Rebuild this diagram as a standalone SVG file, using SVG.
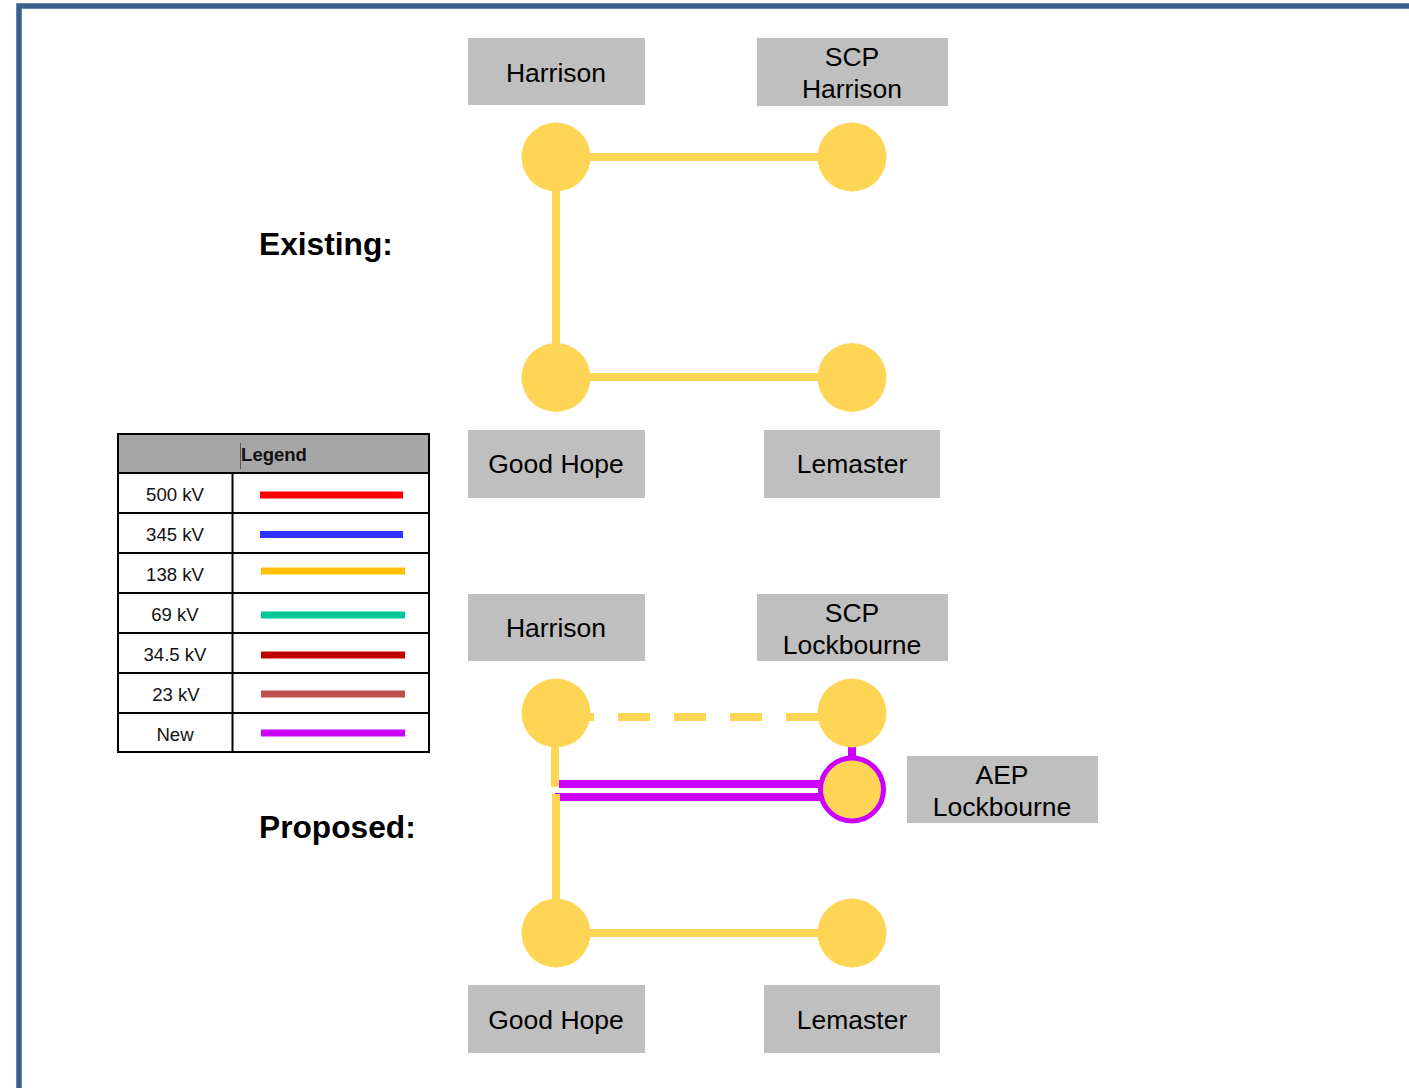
<svg xmlns="http://www.w3.org/2000/svg" width="1409" height="1088" viewBox="0 0 1409 1088">
<style>
.lbl{fill:#BFBFBF}
.t{font-family:"Liberation Sans",Arial,sans-serif;font-size:26.5px;fill:#000;text-anchor:middle}
.h{font-family:"Liberation Sans",Arial,sans-serif;font-size:31.7px;font-weight:bold;fill:#000}
.bus{fill:#FFD555}
.y{stroke:#FFD555;stroke-width:8;fill:none}
.p{stroke:#CC00FF;stroke-width:8;fill:none}
.lt{font-family:"Liberation Sans",Arial,sans-serif;font-size:18.6px;fill:#111;text-anchor:middle}
.grid{stroke:#000;stroke-width:2;fill:none}
.ll{stroke-width:7;fill:none}
</style>
<rect x="0" y="0" width="1409" height="1088" fill="#fff"/>
<rect x="19" y="6" width="1500" height="1200" fill="none" stroke="#3A5F8E" stroke-width="5.5"/>

<text class="h" x="259" y="255">Existing:</text>
<text class="h" x="259" y="838">Proposed:</text>

<g id="connectors">
  <line class="y" x1="556" y1="157" x2="852" y2="157"/>
  <line class="y" x1="556" y1="157" x2="556" y2="377"/>
  <line class="y" x1="556" y1="377" x2="852" y2="377"/>
  <line class="y" x1="562" y1="717" x2="820" y2="717" stroke-dasharray="32 24"/>
  <line class="y" x1="555" y1="713" x2="555" y2="787"/>
  <line class="p" x1="559" y1="784" x2="830" y2="784"/>
  <line class="p" x1="555" y1="797" x2="830" y2="797"/>
  <line class="y" x1="556" y1="794" x2="556" y2="933"/>
  <line class="y" x1="556" y1="933" x2="852" y2="933"/>
  <line class="p" x1="852" y1="740" x2="852" y2="762"/>
</g>

<g id="existing-harrison">
  <rect class="lbl" x="468" y="38" width="177" height="67"/>
  <text class="t" x="556" y="82">Harrison</text>
  <circle class="bus" cx="556" cy="157" r="34.5"/>
</g>
<g id="existing-scp-harrison">
  <rect class="lbl" x="757" y="38" width="191" height="68"/>
  <text class="t" x="852" y="66">SCP</text>
  <text class="t" x="852" y="98">Harrison</text>
  <circle class="bus" cx="852" cy="157" r="34.5"/>
</g>
<g id="existing-good-hope">
  <circle class="bus" cx="556" cy="377.5" r="34.5"/>
  <rect class="lbl" x="468" y="430" width="177" height="68"/>
  <text class="t" x="556" y="473">Good Hope</text>
</g>
<g id="existing-lemaster">
  <circle class="bus" cx="852" cy="377.5" r="34.5"/>
  <rect class="lbl" x="764" y="430" width="176" height="68"/>
  <text class="t" x="852" y="473">Lemaster</text>
</g>

<g id="proposed-harrison">
  <rect class="lbl" x="468" y="594" width="177" height="67"/>
  <text class="t" x="556" y="637">Harrison</text>
  <circle class="bus" cx="556" cy="713" r="34.5"/>
</g>
<g id="proposed-scp-lockbourne">
  <rect class="lbl" x="757" y="594" width="191" height="67"/>
  <text class="t" x="852" y="622">SCP</text>
  <text class="t" x="852" y="654">Lockbourne</text>
  <circle class="bus" cx="852" cy="713" r="34.5"/>
</g>
<g id="proposed-aep-lockbourne">
  <circle class="bus" cx="852" cy="789.5" r="31.5" stroke="#CC00FF" stroke-width="5"/>
  <rect class="lbl" x="907" y="756" width="191" height="67"/>
  <text class="t" x="1002" y="784">AEP</text>
  <text class="t" x="1002" y="816">Lockbourne</text>
</g>
<g id="proposed-good-hope">
  <circle class="bus" cx="556" cy="933" r="34.5"/>
  <rect class="lbl" x="468" y="985" width="177" height="68"/>
  <text class="t" x="556" y="1029">Good Hope</text>
</g>
<g id="proposed-lemaster">
  <circle class="bus" cx="852" cy="933" r="34.5"/>
  <rect class="lbl" x="764" y="985" width="176" height="68"/>
  <text class="t" x="852" y="1029">Lemaster</text>
</g>

<g id="legend">
  <rect x="118" y="434" width="311" height="39" fill="#A6A6A6"/>
  <rect x="118" y="473" width="311" height="279" fill="#fff"/>
  <line x1="240.5" y1="443" x2="240.5" y2="469" stroke="#555" stroke-width="1"/>
  <text x="274" y="461" font-family="Liberation Sans, Arial, sans-serif" font-size="18.5" font-weight="bold" fill="#111" text-anchor="middle">Legend</text>
  <rect class="grid" x="118" y="434" width="311" height="318"/>
  <line class="grid" x1="118" y1="473" x2="429" y2="473"/>
  <line class="grid" x1="118" y1="513" x2="429" y2="513"/>
  <line class="grid" x1="118" y1="553" x2="429" y2="553"/>
  <line class="grid" x1="118" y1="593" x2="429" y2="593"/>
  <line class="grid" x1="118" y1="633" x2="429" y2="633"/>
  <line class="grid" x1="118" y1="673" x2="429" y2="673"/>
  <line class="grid" x1="118" y1="713" x2="429" y2="713"/>
  <line class="grid" x1="232.5" y1="473" x2="232.5" y2="752"/>
  <text class="lt" x="175" y="501">500 kV</text>
  <text class="lt" x="175" y="541">345 kV</text>
  <text class="lt" x="175" y="581">138 kV</text>
  <text class="lt" x="175" y="621">69 kV</text>
  <text class="lt" x="175" y="661">34.5 kV</text>
  <text class="lt" x="176" y="701">23 kV</text>
  <text class="lt" x="175" y="741">New</text>
  <line class="ll" x1="260" y1="495" x2="403" y2="495" stroke="#FF0000"/>
  <line class="ll" x1="260" y1="534.5" x2="403" y2="534.5" stroke="#3333FF"/>
  <line class="ll" x1="261" y1="571" x2="405" y2="571" stroke="#FFC000"/>
  <line class="ll" x1="261" y1="615" x2="405" y2="615" stroke="#00C896"/>
  <line class="ll" x1="261" y1="655" x2="405" y2="655" stroke="#C00000"/>
  <line class="ll" x1="261" y1="694" x2="405" y2="694" stroke="#C0504D"/>
  <line class="ll" x1="261" y1="733" x2="405" y2="733" stroke="#CC00FF"/>
</g>
</svg>
